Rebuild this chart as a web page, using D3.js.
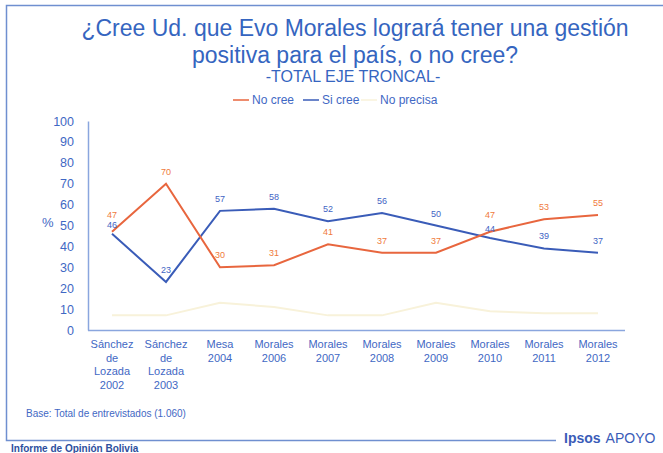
<!DOCTYPE html>
<html>
<head>
<meta charset="utf-8">
<script src="https://cdn.jsdelivr.net/npm/d3@7"></script>
<style>
  body { margin: 0; background: #fff; }
  svg { font-family: "Liberation Sans", Arial, sans-serif; }
</style>
</head>
<body>
<svg id="chart" width="663" height="453"></svg>
<script>
"use strict";

// Datos
var categories = [
  ["Sánchez", "de", "Lozada", "2002"],
  ["Sánchez", "de", "Lozada", "2003"],
  ["Mesa", "2004"],
  ["Morales", "2006"],
  ["Morales", "2007"],
  ["Morales", "2008"],
  ["Morales", "2009"],
  ["Morales", "2010"],
  ["Morales", "2011"],
  ["Morales", "2012"]
];
var noCree = [47, 70, 30, 31, 41, 37, 37, 47, 53, 55];
var siCree = [46, 23, 57, 58, 52, 56, 50, 44, 39, 37];
var noPrecisa = [7, 7, 13, 11, 7, 7, 13, 9, 8, 8];
var yTicks = [0, 10, 20, 30, 40, 50, 60, 70, 80, 90, 100];

var svg = d3.select("#chart");
var blue = "#3f68c4";

// Marco de la diapositiva
svg.append("path")
  .attr("d", "M663,5.5 H6.5 V440.5 H556")
  .attr("fill", "none")
  .attr("stroke", "#6f8fd0")
  .attr("stroke-width", 1.5);

// Titulo
var title = svg.append("g").attr("text-anchor", "middle").attr("fill", "#3565c0");
title.append("text").attr("x", 355).attr("y", 36).style("font-size", "23px")
  .text("¿Cree Ud. que Evo Morales logrará tener una gestión");
title.append("text").attr("x", 355).attr("y", 63).style("font-size", "23px")
  .text("positiva para el país, o no cree?");
title.append("text").attr("x", 353).attr("y", 82).style("font-size", "16px")
  .text("-TOTAL EJE TRONCAL-");

var x = d3.scaleBand()
  .domain(d3.range(categories.length))
  .range([85, 625]);

var y = d3.scaleLinear()
  .domain([0, 100])
  .range([330, 121]);

var series = [
  { name: "No cree", values: noCree, color: "#e8663e", label: "#f07a3c", show: true },
  { name: "Si cree", values: siCree, color: "#3a5cb8", label: "#3f64c4", show: true },
  { name: "No precisa", values: noPrecisa, color: "#f8f2da", label: "#f8f2da", show: false }
];

// Eje Y
var yAxis = svg.append("g")
  .attr("transform", "translate(88,0)")
  .call(d3.axisLeft(y).tickValues(yTicks).tickSize(0).tickPadding(14));
yAxis.select(".domain").attr("stroke", "#8aa6de").attr("stroke-width", 1.5);
yAxis.selectAll("text").attr("fill", blue).style("font-size", "12.5px");

svg.append("text")
  .attr("x", 42).attr("y", 227)
  .attr("fill", blue)
  .style("font-size", "13px")
  .text("%");

// Eje X
var xAxis = svg.append("g")
  .attr("transform", "translate(0,330)")
  .call(d3.axisBottom(x).tickSize(0).tickFormat(""));
xAxis.select(".domain").attr("stroke", "#8aa6de").attr("stroke-width", 1.5)
  .attr("d", "M88,0.5H625");

var xLabels = svg.append("g")
  .selectAll("text")
  .data(categories)
  .enter()
  .append("text")
  .attr("text-anchor", "middle")
  .attr("fill", blue)
  .style("font-size", "11px")
  .attr("transform", function (d, i) {
    return "translate(" + (x(i) + x.bandwidth() / 2) + ",348)";
  });
xLabels.selectAll("tspan")
  .data(function (d) { return d; })
  .enter()
  .append("tspan")
  .attr("x", 0)
  .attr("y", function (d, i) { return i * 13.5; })
  .text(function (d) { return d; });

// Lineas
var line = d3.line()
  .x(function (d, i) { return x(i) + x.bandwidth() / 2; })
  .y(function (d) { return y(d); });

series.slice().reverse().forEach(function (s) {
  svg.append("path")
    .datum(s.values)
    .attr("fill", "none")
    .attr("stroke", s.color)
    .attr("stroke-width", 2)
    .attr("d", line);
});

// Etiquetas de valores (si dos etiquetas quedan muy juntas, la mayor sube)
function labelY(s, d, i) {
  var other = s === noCree ? siCree[i] : noCree[i];
  var base = y(d) - 9;
  if (Math.abs(y(other) - y(d)) < 11) {
    base += d >= other ? -5 : 3;
  }
  return base;
}

series.filter(function (s) { return s.show; }).forEach(function (s) {
  svg.append("g")
    .selectAll("text")
    .data(s.values)
    .enter()
    .append("text")
    .attr("text-anchor", "middle")
    .attr("fill", s.label)
    .style("font-size", "9px")
    .attr("x", function (d, i) { return x(i) + x.bandwidth() / 2; })
    .attr("y", function (d, i) { return labelY(s.values, d, i); })
    .text(function (d) { return d; });
});

// Leyenda
var legend = svg.append("g")
  .attr("transform", "translate(233,104)")
  .style("font-size", "12px");
var legendX = [0, 70, 128];
series.forEach(function (s, i) {
  legend.append("line")
    .attr("x1", legendX[i]).attr("x2", legendX[i] + 16)
    .attr("y1", -4).attr("y2", -4)
    .attr("stroke", s.color)
    .attr("stroke-width", 1.5);
  legend.append("text")
    .attr("x", legendX[i] + 19)
    .attr("y", 0)
    .attr("fill", blue)
    .text(s.name);
});

// Pie de pagina
svg.append("text")
  .attr("x", 26).attr("y", 417)
  .attr("fill", blue)
  .style("font-size", "10px")
  .text("Base: Total de entrevistados (1.060)");

svg.append("text")
  .attr("x", 11).attr("y", 452)
  .attr("fill", "#2d4f9e")
  .style("font-size", "10px")
  .style("font-weight", "bold")
  .text("Informe de Opinión Bolivia");

var brand = svg.append("text")
  .attr("x", 564).attr("y", 443)
  .attr("fill", "#3a5cb8")
  .style("font-size", "14px");
brand.append("tspan").style("font-weight", "bold").text("Ipsos");
brand.append("tspan").attr("dx", 5).text("APOYO");
</script>
</body>
</html>
